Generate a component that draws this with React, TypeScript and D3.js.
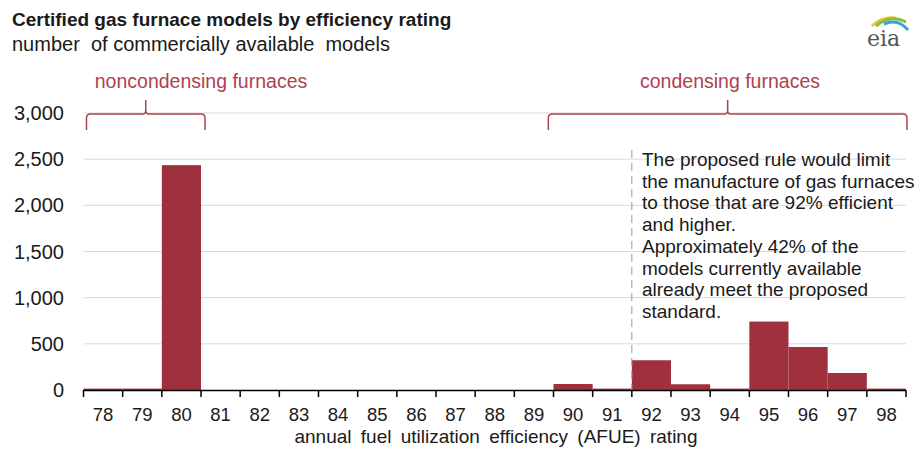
import * as d3 from "d3";

const ratings = ["78", "79", "80", "81", "82", "83", "84", "85", "86", "87", "88", "89", "90", "91", "92", "93", "94", "95", "96", "97", "98"];
const models = [15, 15, 2435, 0, 0, 0, 0, 0, 0, 0, 0, 0, 65, 15, 322, 62, 15, 741, 466, 184, 15];
const yTicks = [0, 500, 1000, 1500, 2000, 2500, 3000];
const noteLines = [
  "The proposed rule would limit",
  "the manufacture of gas furnaces",
  "to those that are 92% efficient",
  "and higher.",
  "Approximately 42% of the",
  "models currently available",
  "already meet the proposed",
  "standard.",
];

const W = 919;
const H = 452;
const font = "'Liberation Sans', Arial, sans-serif";
const barColor = "#9f313f";
const accent = "#b0414f";
const ink = "#1a1a1a";

export default function App() {
  const x = d3.scaleBand().domain(ratings).range([83.5, 906]).padding(0);
  const y = d3.scaleLinear().domain([0, 3000]).range([390, 113]);
  const fmt = d3.format(",");

  // curly bracket over a group of bins
  const brace = (x0: number, x1: number) => {
    const top = 114;
    const foot = 130;
    const mid = (x0 + x1) / 2;
    return `M${x0},${foot} L${x0},${top + 4} Q${x0},${top} ${x0 + 4},${top} L${mid - 3},${top} Q${mid},${top} ${mid},${top - 4} L${mid},${top - 14} M${mid},${top - 4} Q${mid},${top} ${mid + 3},${top} L${x1 - 4},${top} Q${x1},${top} ${x1},${top + 4} L${x1},${foot}`;
  };

  const tickXs = ratings.map((r) => x(r)!).concat([x.range()[1]]);
  const split = x("92")!;

  return (
    <div style={{ position: "absolute", left: 0, top: 0 }}>
      <svg width={W} height={H} style={{ display: "block", background: "#fff" }} fontFamily={font}>
        <text x={12} y={26} fontSize={19} fontWeight="bold" fill={ink}>
          Certified gas furnace models by efficiency rating
        </text>
        <text x={12} y={51} fontSize={20} fill={ink} style={{ whiteSpace: "pre" }}>
          {"number  of commercially available  models"}
        </text>

        {/* eia logo */}
        <g>
          <path d="M872,26 Q882,16 896,18" stroke="#f2c230" strokeWidth={3} fill="none" />
          <path d="M876,26 Q890,14 906,22" stroke="#7fbf3f" strokeWidth={3} fill="none" />
          <path d="M884,24 Q898,18 908,30" stroke="#3aa0d8" strokeWidth={3} fill="none" />
          <text x={867} y={46} fontSize={22} fontFamily="'DejaVu Serif', serif" fill="#555">eia</text>
        </g>

        {yTicks.map((t) => (
          <g key={t}>
            {t > 0 && (
              <line x1={83.5} x2={906} y1={y(t)} y2={y(t)} stroke="#d9d9d9" strokeWidth={1} />
            )}
            <text x={64} y={y(t) + 7} fontSize={20} textAnchor="end" fill={ink}>
              {fmt(t)}
            </text>
          </g>
        ))}

        {ratings.map((r, i) => (
          <rect
            key={r}
            x={x(r)!}
            y={y(models[i])}
            width={x.bandwidth()}
            height={390 - y(models[i])}
            fill={barColor}
          />
        ))}

        <line x1={split} x2={split} y1={150} y2={390} stroke="#999" strokeWidth={1} strokeDasharray="8,5" />

        {noteLines.map((l, i) => (
          <text key={i} x={642} y={166 + i * 21.7} fontSize={19} fill={ink}>
            {l}
          </text>
        ))}

        <line x1={83.5} x2={906} y1={390.5} y2={390.5} stroke="#000" strokeWidth={1.5} />
        {tickXs.map((tx, i) => (
          <line key={i} x1={tx} x2={tx} y1={390} y2={397} stroke="#000" strokeWidth={1.5} />
        ))}
        {ratings.map((r) => (
          <text key={r} x={x(r)! + x.bandwidth() / 2} y={421} fontSize={18.5} textAnchor="middle" fill={ink}>
            {r}
          </text>
        ))}
        <text x={496} y={443} fontSize={19} textAnchor="middle" fill={ink} wordSpacing={4}>
          annual fuel utilization efficiency (AFUE) rating
        </text>

        <path d={brace(x("78")! + 3, x("81")! + 4)} stroke={accent} strokeWidth={1.5} fill="none" />
        <path d={brace(x("89")! + 34, x("98")! + x.bandwidth() + 1)} stroke={accent} strokeWidth={1.5} fill="none" />
        <text x={201} y={88} fontSize={19.5} textAnchor="middle" fill={accent}>
          noncondensing furnaces
        </text>
        <text x={730} y={88} fontSize={19.5} textAnchor="middle" fill={accent}>
          condensing furnaces
        </text>
      </svg>
    </div>
  );
}
